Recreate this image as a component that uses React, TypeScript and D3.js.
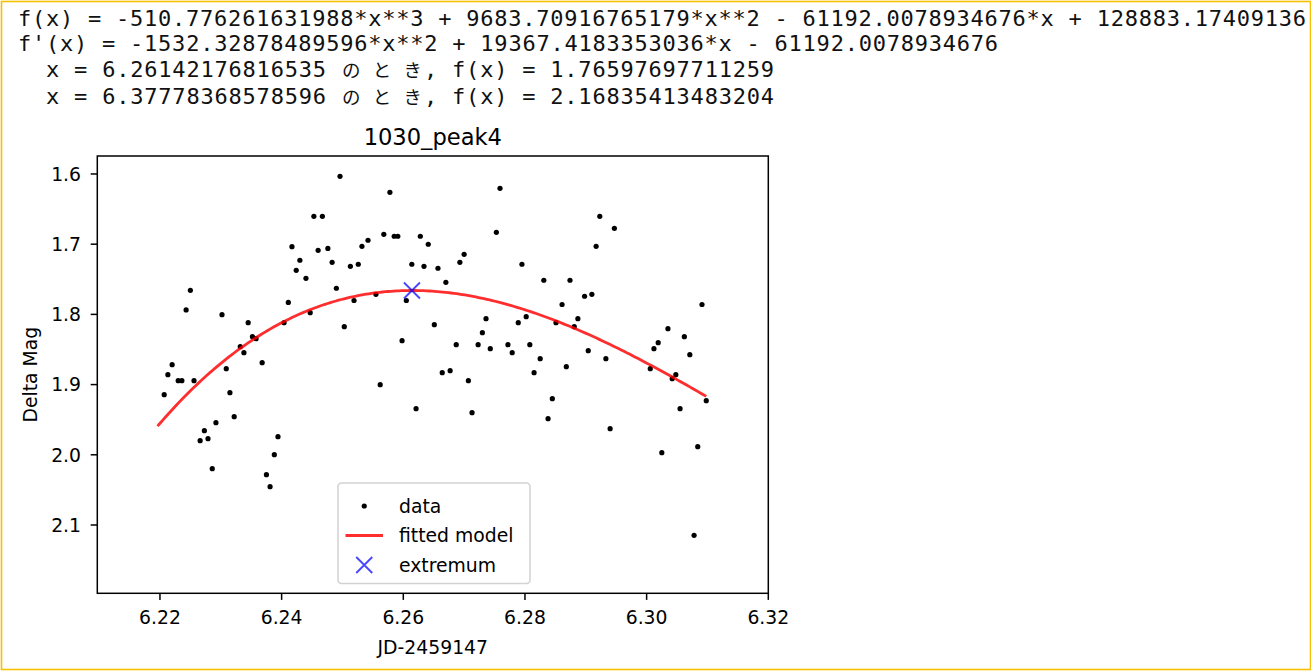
import React from "react";
import * as d3 from "d3";

// Observations: JD-2459147 and Delta Mag
const jd = [
  6.2453, 6.2467, 6.2417, 6.2460, 6.2476, 6.2430, 6.2424, 6.2440, 6.2250, 6.2411,
  6.2243, 6.2483, 6.2496, 6.2578, 6.2759, 6.2568, 6.2585, 6.2591, 6.2542, 6.2532,
  6.2628, 6.2641, 6.2753, 6.2513, 6.2526, 6.2614, 6.2634, 6.2657, 6.2693, 6.2700,
  6.2795, 6.2490, 6.2670, 6.2555, 6.2519, 6.2605, 6.2923, 6.2947, 6.2917, 6.2831,
  6.2874, 6.2898, 6.2910, 6.2861, 6.3091, 6.2302, 6.2345, 6.2447, 6.2404, 6.2352,
  6.2358, 6.2332, 6.2338, 6.2368, 6.2220, 6.2213, 6.2230, 6.2236, 6.2256, 6.2309,
  6.2207, 6.2315, 6.2322, 6.2292, 6.2273, 6.2266, 6.2279, 6.2394, 6.2388, 6.2286,
  6.2375, 6.2381, 6.2503, 6.2598, 6.2651, 6.2736, 6.2730, 6.2687, 6.2723, 6.2743,
  6.2772, 6.2779, 6.2789, 6.2802, 6.2808, 6.2825, 6.2815, 6.2664, 6.2677, 6.2707,
  6.2562, 6.2621, 6.2713, 6.2851, 6.2887, 6.2881, 6.2868, 6.2904, 6.2933, 6.2845,
  6.2838, 6.2940, 6.3035, 6.3062, 6.3019, 6.3012, 6.3071, 6.3006, 6.3042, 6.3048,
  6.3098, 6.3055, 6.3025, 6.3084, 6.3078,
];
const deltaMag = [
  1.6603, 1.6603, 1.7036, 1.7087, 1.7061, 1.7229, 1.7372, 1.7486, 1.7657, 1.7830,
  1.7937, 1.7258, 1.6033, 1.6261, 1.6204, 1.6859, 1.6887, 1.6887, 1.6944, 1.7030,
  1.6887, 1.7001, 1.6831, 1.7315, 1.7286, 1.7286, 1.7315, 1.7343, 1.7258, 1.7144,
  1.7286, 1.7628, 1.7543, 1.7714, 1.7802, 1.7802, 1.6603, 1.6774, 1.7030, 1.7514,
  1.7514, 1.7742, 1.7714, 1.7859, 1.7859, 1.8004, 1.8118, 1.7976, 1.8118, 1.8318,
  1.8346, 1.8460, 1.8546, 1.8688, 1.8717, 1.8859, 1.8944, 1.8944, 1.8944, 1.8774,
  1.9144, 1.9115, 1.9457, 1.9543, 1.9657, 1.9799, 1.9771, 1.9742, 1.9999, 2.0198,
  2.0283, 2.0454, 1.8175, 1.8375, 1.8147, 1.8061, 1.8261, 1.8432, 1.8432, 1.8489,
  1.8432, 1.8546, 1.8118, 1.8033, 1.8432, 1.8631, 1.8830, 1.8830, 1.8802, 1.8944,
  1.9001, 1.9343, 1.9400, 1.8118, 1.8061, 1.8175, 1.8745, 1.8517, 1.8631, 1.9201,
  1.9486, 1.9628, 1.8204, 1.8318, 1.8403, 1.8489, 1.8574, 1.8774, 1.8916, 1.8859,
  1.9229, 1.9343, 1.9970, 1.9885, 2.1147,
];

// Cubic fit coefficients (highest power first)
const coeffs = [-510.776261631988, 9683.70916765179, -61192.0078934676, 128883.17409136];
const fitRange = [6.2196, 6.3098];
const extremumX = [6.26142176816535];
const extremumY = [1.76597697711259];

const xTicks = [6.22, 6.24, 6.26, 6.28, 6.3, 6.32];
const yTicks = [1.6, 1.7, 1.8, 1.9, 2.0, 2.1];

const headerLine1 = "f(x) = -510.776261631988*x**3 + 9683.70916765179*x**2 - 61192.0078934676*x + 128883.17409136";
const headerLine2 = "f'(x) = -1532.32878489596*x**2 + 19367.4183353036*x - 61192.0078934676";
const rootLines = [
  { x: "x = 6.26142176816535", fx: ", f(x) = 1.76597697711259" },
  { x: "x = 6.37778368578596", fx: ", f(x) = 2.16835413483204" },
];
const toki = "のとき";

const chartTitle = "1030_peak4";
const xLabel = "JD-2459147";
const yLabel = "Delta Mag";
const legendLabels = ["data", "fitted model", "extremum"];

const W = 1311;
const H = 671;
const frame = { left: 97.3, right: 768.3, top: 156, bottom: 593.3 };

const mono = "'DejaVu Sans Mono', monospace";
const sans = "'DejaVu Sans', sans-serif";
const cjk = "'Noto Sans CJK JP', sans-serif";
const CH = 14; // column width of the console text

const poly = (x: number) => coeffs.reduce((acc, c) => acc * x + c, 0);

export default function App() {
  const x = d3.scaleLinear().domain([6.2097, 6.32]).range([frame.left, frame.right]);
  const y = d3.scaleLinear().domain([1.5744, 2.1973]).range([frame.top, frame.bottom]);

  const curveXs = d3.range(0, 201).map((i) => fitRange[0] + ((fitRange[1] - fitRange[0]) * i) / 200);
  const line = d3
    .line<number>()
    .x((d) => x(d))
    .y((d) => y(poly(d)));
  const curvePath = line(curveXs) || "";

  const red = "rgba(255,0,0,0.82)";
  const blue = "rgba(0,0,255,0.72)";
  const tickLen = 6.6;

  const xMark = (cx: number, cy: number, s: number) =>
    `M${cx - s},${cy - s}L${cx + s},${cy + s}M${cx - s},${cy + s}L${cx + s},${cy - s}`;

  const lineY = [26, 51, 77, 104];
  const colX0 = 18 + 2 * CH;

  const legend = { left: 338, right: 530, top: 483, bottom: 583.5 };
  const legendRows = [506, 535.5, 565];
  const handleX0 = 345.5;
  const handleX1 = 383;
  const handleCx = (handleX0 + handleX1) / 2;

  return (
    <svg
      width={W}
      height={H}
      style={{ position: "absolute", left: 0, top: 0, background: "#fff" }}
    >
      <rect x={0} y={0} width={W} height={H} fill="#fff" />
      <rect x={1.5} y={1.5} width={W - 2} height={H - 3} fill="none" stroke="#f7c100" strokeWidth={1.6} />

      {/* console output above the figure */}
      <g fontFamily={mono} fontSize={22} fill="#111">
        <text x={18} y={lineY[0]} textLength={headerLine1.length * CH} lengthAdjust="spacing">
          {headerLine1}
        </text>
        <text x={18} y={lineY[1]} textLength={headerLine2.length * CH} lengthAdjust="spacing">
          {headerLine2}
        </text>
        {rootLines.map((r, i) => {
          const xs = colX0 + (r.x.length + 1 + 6) * CH;
          return (
            <g key={i}>
              <text x={colX0} y={lineY[2 + i]} textLength={r.x.length * CH} lengthAdjust="spacing">
                {r.x}
              </text>
              <text
                x={colX0 + (r.x.length + 1) * CH + 2}
                y={lineY[2 + i]}
                fontFamily={cjk}
                fontSize={18.5}
                textLength={6 * CH - 4}
                lengthAdjust="spacing"
              >
                {toki}
              </text>
              <text x={xs} y={lineY[2 + i]} textLength={r.fx.length * CH} lengthAdjust="spacing">
                {r.fx}
              </text>
            </g>
          );
        })}
      </g>

      {/* title */}
      <text x={(frame.left + frame.right) / 2} y={145} textAnchor="middle" fontFamily={sans} fontSize={22.6} fill="#000">
        {chartTitle}
      </text>

      {/* data points */}
      <g fill="#000">
        {jd.map((d, i) => (
          <circle key={i} cx={x(d)} cy={y(deltaMag[i])} r={2.6} />
        ))}
      </g>

      {/* fitted cubic */}
      <path d={curvePath} fill="none" stroke={red} strokeWidth={2.8} />

      {/* extremum */}
      {extremumX.map((ex, i) => (
        <path key={i} d={xMark(x(ex), y(extremumY[i]), 8)} stroke={blue} strokeWidth={1.9} fill="none" />
      ))}

      {/* legend */}
      <rect
        x={legend.left}
        y={legend.top}
        width={legend.right - legend.left}
        height={legend.bottom - legend.top}
        rx={3.5}
        fill="rgba(255,255,255,0.8)"
        stroke="#d2d2d2"
        strokeWidth={1.5}
      />
      <circle cx={handleCx} cy={legendRows[0]} r={2.6} fill="#000" />
      <line x1={handleX0} x2={handleX1} y1={legendRows[1]} y2={legendRows[1]} stroke={red} strokeWidth={2.8} />
      <path d={xMark(handleCx, legendRows[2], 8)} stroke={blue} strokeWidth={1.9} fill="none" />
      <g fontFamily={sans} fontSize={18.8} fill="#000">
        {legendLabels.map((lab, i) => (
          <text key={lab} x={399} y={legendRows[i] + 6.8}>
            {lab}
          </text>
        ))}
      </g>

      {/* axes frame */}
      <rect
        x={frame.left}
        y={frame.top}
        width={frame.right - frame.left}
        height={frame.bottom - frame.top}
        fill="none"
        stroke="#000"
        strokeWidth={1.5}
      />

      {/* x axis */}
      <g fontFamily={sans} fontSize={18.8} fill="#000">
        {xTicks.map((t) => (
          <g key={t}>
            <line x1={x(t)} x2={x(t)} y1={frame.bottom} y2={frame.bottom + tickLen} stroke="#000" strokeWidth={1.5} />
            <text x={x(t)} y={624} textAnchor="middle">
              {d3.format(".2f")(t)}
            </text>
          </g>
        ))}
        <text x={(frame.left + frame.right) / 2} y={654} textAnchor="middle">
          {xLabel}
        </text>
      </g>

      {/* y axis */}
      <g fontFamily={sans} fontSize={18.8} fill="#000">
        {yTicks.map((t) => (
          <g key={t}>
            <line x1={frame.left - tickLen} x2={frame.left} y1={y(t)} y2={y(t)} stroke="#000" strokeWidth={1.5} />
            <text x={81} y={y(t) + 6.8} textAnchor="end">
              {d3.format(".1f")(t)}
            </text>
          </g>
        ))}
        <text transform={`translate(37, ${(frame.top + frame.bottom) / 2}) rotate(-90)`} textAnchor="middle">
          {yLabel}
        </text>
      </g>
    </svg>
  );
}
